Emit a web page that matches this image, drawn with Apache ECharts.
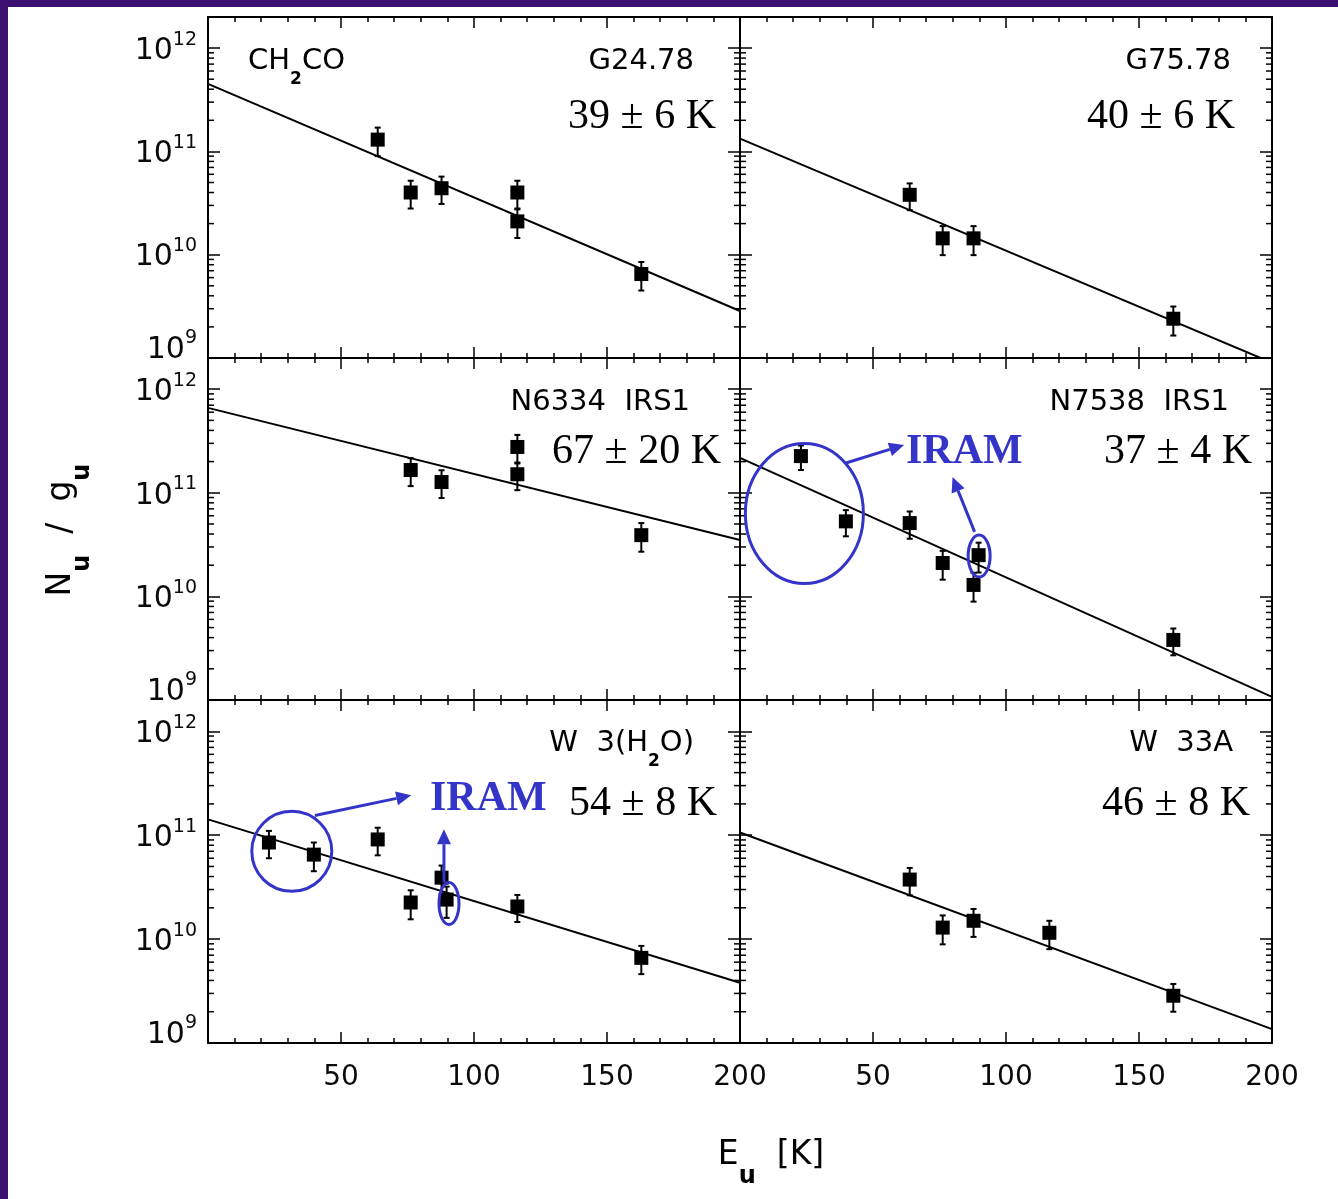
<!DOCTYPE html>
<html>
<head>
<meta charset="utf-8">
<script src="https://cdn.jsdelivr.net/npm/echarts@6/dist/echarts.min.js"></script>
<style>
  html, body { margin: 0; padding: 0; background: #3c1070; }
  #paper { position: absolute; left: 8px; top: 7px; right: 0; bottom: 0; background: #fff; }
  #chart { position: absolute; left: 0; top: 0; width: 1338px; height: 1199px; }
</style>
</head>
<body>
<div id="paper"></div>
<div id="chart"></div>
<script>
// rotation diagrams of CH2CO, one panel per source
const energyG24 = [63.8, 76.2, 87.8, 116.3, 116.3, 162.9];
const valueG24 = [1.3e11, 4.0e10, 4.4e10, 4.0e10, 2.1e10, 6.5e9];
const errorG24 = [4.0e10, 1.2e10, 1.3e10, 1.2e10, 6.5e9, 2.0e9];
const fitG24 = [4.5e11, 2.85e9];

const energyG75 = [63.8, 76.2, 87.8, 162.9];
const valueG75 = [3.8e10, 1.44e10, 1.44e10, 2.4e9];
const errorG75 = [1.1e10, 4.5e9, 4.5e9, 7.5e8];
const fitG75 = [1.33e11, 9.0e8];

const energyN6334 = [76.2, 87.8, 116.3, 116.3, 162.9];
const valueN6334 = [1.66e11, 1.27e11, 2.77e11, 1.51e11, 3.9e10];
const errorN6334 = [5.0e10, 3.8e10, 8.5e10, 4.5e10, 1.2e10];
const fitN6334 = [6.6e11, 3.5e10];

const energyN7538 = [22.9, 39.8, 63.8, 76.2, 89.7, 87.8, 162.9];
const valueN7538 = [2.26e11, 5.3e10, 5.1e10, 2.1e10, 2.5e10, 1.29e10, 3.8e9];
const errorN7538 = [6.0e10, 1.5e10, 1.5e10, 6.5e9, 8.0e9, 4.0e9, 1.1e9];
const fitN7538 = [2.17e11, 1.07e9];

const energyW3 = [22.9, 39.8, 63.8, 76.2, 87.8, 89.7, 116.3, 162.9];
const valueW3 = [8.5e10, 6.5e10, 9.1e10, 2.25e10, 3.9e10, 2.4e10, 2.06e10, 6.6e9];
const errorW3 = [2.5e10, 2.0e10, 2.7e10, 7.0e9, 1.2e10, 8.0e9, 6.0e9, 2.0e9];
const fitW3 = [1.42e11, 3.8e9];

const energyW33A = [63.8, 76.2, 87.8, 116.3, 162.9];
const valueW33A = [3.74e10, 1.29e10, 1.5e10, 1.15e10, 2.85e9];
const errorW33A = [1.1e10, 4.0e9, 4.5e9, 3.5e9, 8.5e8];
const fitW33A = [1.06e11, 1.36e9];

const sourceNames = ['G24.78', 'G75.78', 'N6334  IRS1', 'N7538  IRS1', 'W  3(H{sub|2}O)', 'W  33A'];
const temperatures = ['39 ± 6 K', '40 ± 6 K', '67 ± 20 K', '37 ± 4 K', '54 ± 8 K', '46 ± 8 K'];
const minorMantissas = [2, 3, 4, 5, 6, 7, 8, 9];
const decades = [9, 10, 11];

const panels = [
  { E: energyG24, N: valueG24, err: errorG24, fit: fitG24 },
  { E: energyG75, N: valueG75, err: errorG75, fit: fitG75 },
  { E: energyN6334, N: valueN6334, err: errorN6334, fit: fitN6334 },
  { E: energyN7538, N: valueN7538, err: errorN7538, fit: fitN7538 },
  { E: energyW3, N: valueW3, err: errorW3, fit: fitW3 },
  { E: energyW33A, N: valueW33A, err: errorW33A, fit: fitW33A }
];

// layout
const colLeft = [208, 740];
const colWidth = [532, 532];
const rowTop = [17, 358, 700];
const rowHeight = [341, 342, 343];
const BLUE = '#3434c8';
const SANS = 'DejaVu Sans';
const SERIF = 'Liberation Serif';
const INK = '#0a0a0a';

const minorTickValues = [];
decades.forEach(d => minorMantissas.forEach(m => minorTickValues.push(m * Math.pow(10, d))));

const chart = echarts.init(document.getElementById('chart'));

const grids = [], xAxes = [], yAxes = [], series = [];

const frameLine = { show: true, onZero: false, lineStyle: { color: '#000', width: 2 } };

const yLabelRich = {
  b: { fontFamily: SANS, fontSize: 30, color: INK, padding: [6, 0, 0, 0], verticalAlign: 'bottom' },
  s: { fontFamily: SANS, fontSize: 19, color: INK, verticalAlign: 'top' },
  bl: { fontFamily: SANS, fontSize: 30, color: INK, padding: [6, 0, 22, 0], verticalAlign: 'bottom' }
};

function yLabel(value) {
  const e = Math.log10(value);
  const r = Math.round(e);
  if (Math.abs(e - r) > 1e-6) return '';
  return r === 9 ? '{bl|10}{s|9}' : '{b|10}{s|' + r + '}';
}

panels.forEach((p, i) => {
  const col = i % 2, row = Math.floor(i / 2);
  grids.push({ left: colLeft[col], top: rowTop[row], width: colWidth[col], height: rowHeight[row] });

  ['bottom', 'top'].forEach(pos => {
    xAxes.push({
      gridIndex: i, type: 'value', min: 0, max: 200, interval: 50, position: pos,
      axisLine: frameLine,
      axisTick: { inside: true, length: 11, lineStyle: { color: '#000', width: 1.5 } },
      minorTick: { show: true, splitNumber: 5, length: 5, lineStyle: { color: '#000', width: 1.5 } },
      splitLine: { show: false }, minorSplitLine: { show: false },
      axisLabel: {
        show: pos === 'bottom' && row === 2, showMinLabel: false, margin: 21,
        fontFamily: SANS, fontSize: 28, color: INK
      }
    });
  });
  ['left', 'right'].forEach(pos => {
    yAxes.push({
      gridIndex: i, type: 'log', logBase: 10, min: 1e9, max: 2e12, position: pos,
      axisLine: frameLine,
      axisTick: { inside: true, length: 12, lineStyle: { color: '#000', width: 1.5 } },
      splitLine: { show: false },
      axisLabel: {
        show: pos === 'left' && col === 0, margin: 11, formatter: yLabel, rich: yLabelRich
      }
    });
  });

  const ax = { xAxisIndex: 2 * i, yAxisIndex: 2 * i };
  series.push(Object.assign({
    type: 'line', data: [[0, p.fit[0]], [200, p.fit[1]]], symbol: 'none', clip: true,
    lineStyle: { color: '#000', width: 2 }, z: 3, silent: true
  }, ax));
  series.push(Object.assign({
    type: 'custom', z: 4, silent: true,
    data: p.E.map((e, k) => [e, p.N[k] - p.err[k], p.N[k] + p.err[k]]),
    encode: { x: 0, y: [1, 2] },
    renderItem: (params, api) => {
      const lo = api.coord([api.value(0), api.value(1)]);
      const hi = api.coord([api.value(0), api.value(2)]);
      const st = { stroke: '#000', lineWidth: 2 };
      return {
        type: 'group', children: [
          { type: 'line', shape: { x1: lo[0], y1: lo[1], x2: hi[0], y2: hi[1] }, style: st },
          { type: 'line', shape: { x1: lo[0] - 3, y1: lo[1], x2: lo[0] + 3, y2: lo[1] }, style: st },
          { type: 'line', shape: { x1: hi[0] - 3, y1: hi[1], x2: hi[0] + 3, y2: hi[1] }, style: st }
        ]
      };
    }
  }, ax));
  series.push(Object.assign({
    type: 'scatter', data: p.E.map((e, k) => [e, p.N[k]]), symbol: 'rect', symbolSize: 14,
    itemStyle: { color: '#000', opacity: 1 }, z: 5
  }, ax));
  series.push(Object.assign({
    type: 'custom', z: 2, silent: true,
    data: minorTickValues.map(v => [0, v]),
    encode: { x: 0, y: 1 },
    renderItem: (params, api) => {
      const l = api.coord([0, api.value(1)]);
      const r = api.coord([200, api.value(1)]);
      const st = { stroke: '#000', lineWidth: 1.5 };
      return {
        type: 'group', children: [
          { type: 'line', shape: { x1: l[0], y1: l[1], x2: l[0] + 6, y2: l[1] }, style: st },
          { type: 'line', shape: { x1: r[0] - 6, y1: r[1], x2: r[0], y2: r[1] }, style: st }
        ]
      };
    }
  }, ax));
});

chart.setOption({
  animation: false,
  backgroundColor: 'transparent',
  grid: grids, xAxis: xAxes, yAxis: yAxes, series: series
});

// texts
const labelSpots = [
  { name: [694, 61], temp: [716, 117] },
  { name: [1231, 61], temp: [1235, 117] },
  { name: [690, 402], temp: [721, 452] },
  { name: [1229, 402], temp: [1252, 452] },
  { name: [694, 743], temp: [717, 804] },
  { name: [1233, 743], temp: [1250, 804] }
];
const labelRich = {
  m: { fontFamily: SANS, fontSize: 29, color: INK, padding: [0, 0, 13, 0], verticalAlign: 'top' },
  sub: { fontFamily: SANS, fontSize: 17, fontWeight: 'bold', color: INK, verticalAlign: 'bottom' }
};
function richName(txt) {
  return txt.split(/(\{sub\|[^}]*\})/).filter(s => s).map(s => s.startsWith('{sub|') ? s : '{m|' + s + '}').join('');
}

const graphics = [];
labelSpots.forEach((spot, i) => {
  graphics.push({
    type: 'text', x: spot.name[0], y: spot.name[1] - 14.5, z: 100,
    style: { text: richName(sourceNames[i]), rich: labelRich, align: 'right', verticalAlign: 'top' }
  });
  graphics.push({
    type: 'text', x: spot.temp[0], y: spot.temp[1], z: 100,
    style: { text: temperatures[i], font: '42px "' + SERIF + '"', fill: '#000', align: 'right', verticalAlign: 'middle' }
  });
});
graphics.push({
  type: 'text', x: 248, y: 61 - 14.5, z: 100,
  style: { text: richName('CH{sub|2}CO'), rich: labelRich, align: 'left', verticalAlign: 'top' }
});
[[906, 452], [430, 799]].forEach(pt => {
  graphics.push({
    type: 'text', x: pt[0], y: pt[1], z: 100,
    style: { text: 'IRAM', font: 'bold 42px "' + SERIF + '"', fill: BLUE, align: 'left', verticalAlign: 'middle' }
  });
});

const titleRich = {
  m: { fontFamily: SANS, fontSize: 33, color: INK, padding: [0, 0, 17, 0], verticalAlign: 'top' },
  sub: { fontFamily: SANS, fontSize: 24, fontWeight: 'bold', color: INK, verticalAlign: 'bottom' }
};
graphics.push({
  type: 'text', x: 771, y: 1155 - 16.5, z: 100,
  style: { text: '{m|E}{sub|u}{m|  [K]}', rich: titleRich, align: 'center', verticalAlign: 'top' }
});
graphics.push({
  type: 'text', x: 45, y: 530, rotation: Math.PI / 2, z: 100,
  style: { text: '{m|N}{sub|u}{m|  /  g}{sub|u}', rich: titleRich, align: 'center', verticalAlign: 'top' }
});

// IRAM annotations, anchored in data space
const annotationLayout = [
  { panel: 3,
    ellipses: [[24.2, 6.3e10, 59, 70], [89.9, 2.45e10, 11, 21]],
    arrows: [[[39.8, 1.94e11], [61.7, 2.9e11]], [[88.2, 4.2e10], [79.9, 1.42e11]]] },
  { panel: 4,
    ellipses: [[31.5, 7.0e10, 40, 40], [90.6, 2.2e10, 10, 21]],
    arrows: [[[40.2, 1.55e11], [76.4, 2.42e11]], [[88.7, 3.5e10], [88.7, 1.14e11]]] }
];
annotationLayout.forEach(a => {
  const finder = { seriesIndex: 4 * a.panel + 2 };
  a.ellipses.forEach(el => {
    const c = chart.convertToPixel(finder, [el[0], el[1]]);
    graphics.push({
      type: 'ellipse', z: 100, shape: { cx: c[0], cy: c[1], rx: el[2], ry: el[3] },
      style: { fill: 'none', stroke: BLUE, lineWidth: 3 }
    });
  });
  a.arrows.forEach(ar => {
    const t = chart.convertToPixel(finder, ar[0]);
    const h = chart.convertToPixel(finder, ar[1]);
    const dx = h[0] - t[0], dy = h[1] - t[1];
    const len = Math.sqrt(dx * dx + dy * dy);
    const ux = dx / len, uy = dy / len;
    const bx = h[0] - ux * 15, by = h[1] - uy * 15;
    graphics.push({
      type: 'line', z: 100, shape: { x1: t[0], y1: t[1], x2: bx, y2: by },
      style: { stroke: BLUE, lineWidth: 3 }
    });
    graphics.push({
      type: 'polygon', z: 100,
      shape: { points: [h, [bx - uy * 7, by + ux * 7], [bx + uy * 7, by - ux * 7]] },
      style: { fill: BLUE }
    });
  });
});

chart.setOption({ graphic: graphics });
</script>
</body>
</html>
